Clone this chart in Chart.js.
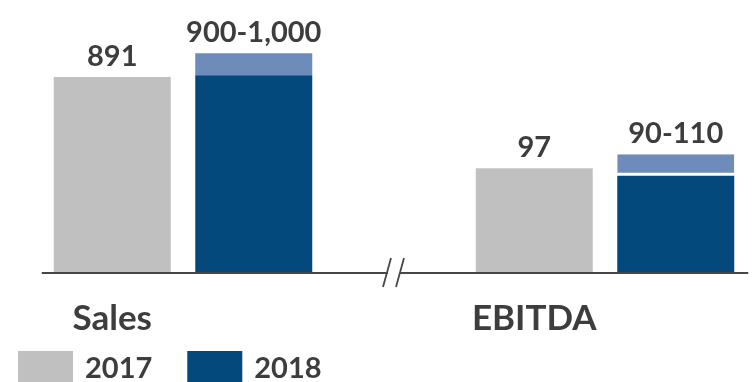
<!DOCTYPE html>
<html>
<head>
<meta charset="utf-8">
<title>Sales and EBITDA outlook</title>
<script src="https://cdn.jsdelivr.net/npm/chart.js@4/dist/chart.umd.min.js"></script>
<style>
    html, body { margin: 0; padding: 0; background: #ffffff; }
    #wrap { width: 753px; height: 382px; }
</style>
</head>
<body>
<div id="wrap"><canvas id="outlookChart" width="753" height="382"></canvas></div>
<script>
var categories = ['Sales', 'EBITDA'];
var years = ['2017', '2018'];
var actual2017 = [891, 97];
var outlookLow2018 = [900, 90];
var outlookHigh2018 = [1000, 110];

var GREY = '#c0c0c0';
var NAVY = '#03497c';
var LIGHT = '#6d8cb9';
var TEXT = '#3d3d3d';
var FONT = 'Lato, "Open Sans", sans-serif';

// Sales and EBITDA sit on their own value axes (broken axis between them)
var axisIds = ['ySales', 'yEbitda'];

function onlyAt(i, value) {
    return categories.map(function (c, j) { return j === i ? value : null; });
}

var datasets = [];
categories.forEach(function (cat, i) {
    datasets.push({
        label: years[0], yAxisID: axisIds[i], stack: years[0],
        data: onlyAt(i, actual2017[i]),
        backgroundColor: GREY
    });
});
categories.forEach(function (cat, i) {
    datasets.push({
        label: years[1], yAxisID: axisIds[i], stack: years[1],
        data: onlyAt(i, outlookLow2018[i]),
        backgroundColor: NAVY
    });
});
// guidance range drawn as a floating bar over the low end
categories.forEach(function (cat, i) {
    datasets.push({
        label: years[1] + ' range', yAxisID: axisIds[i], stack: years[1],
        data: onlyAt(i, [outlookLow2018[i], outlookHigh2018[i]]),
        backgroundColor: LIGHT,
        borderColor: '#ffffff',
        borderSkipped: false,
        borderWidth: i === 1 ? { top: 0, left: 0, right: 0, bottom: 3 } : 0
    });
});

function fmt(v) {
    return v.toLocaleString('en-US');
}

function barOf(chart, dsIndex, i) {
    return chart.getDatasetMeta(dsIndex).data[i];
}

var decorations = {
    id: 'decorations',
    afterDatasetsDraw: function (chart) {
        var ctx = chart.ctx;
        var n = categories.length;
        var base = chart.scales.ySales.getPixelForValue(0);

        ctx.save();

        // baseline with break marks between the two groups
        var first = barOf(chart, 0, 0);
        var last = barOf(chart, n + n - 1, n - 1);
        var left = first.x - first.width / 2 - 12;
        var right = last.x + last.width / 2 + 14;
        var salesEnd = barOf(chart, n, 0);
        var ebitdaStart = barOf(chart, 1, 1);
        var mid = ((salesEnd.x + salesEnd.width / 2) + (ebitdaStart.x - ebitdaStart.width / 2)) / 2;
        ctx.strokeStyle = '#474747';
        ctx.lineWidth = 2;
        ctx.beginPath();
        ctx.moveTo(left, base + 1);
        ctx.lineTo(mid - 6, base + 1);
        ctx.moveTo(mid + 6, base + 1);
        ctx.lineTo(right, base + 1);
        ctx.stroke();
        ctx.lineWidth = 1.8;
        ctx.beginPath();
        ctx.moveTo(mid - 11, base + 15);
        ctx.lineTo(mid - 3, base - 14);
        ctx.moveTo(mid + 2, base + 15);
        ctx.lineTo(mid + 10, base - 14);
        ctx.stroke();

        // value labels above each bar
        ctx.fillStyle = TEXT;
        ctx.font = 'bold 29px ' + FONT;
        ctx.textAlign = 'center';
        ctx.textBaseline = 'alphabetic';
        for (var i = 0; i < n; i++) {
            var b17 = barOf(chart, i, i);
            ctx.fillText(fmt(actual2017[i]), b17.x, b17.y - 11);
            var b18 = barOf(chart, 2 * n + i, i);
            ctx.fillText(fmt(outlookLow2018[i]) + '-' + fmt(outlookHigh2018[i]), b18.x, b18.y - 11);
        }

        // category names under the 2017 bar of each group
        ctx.font = 'bold 35px ' + FONT;
        for (var k = 0; k < n; k++) {
            var b = barOf(chart, k, k);
            ctx.fillText(categories[k], b.x, base + 58);
        }

        // legend
        ctx.textAlign = 'left';
        ctx.font = 'bold 29px ' + FONT;
        var x = 18;
        var legendColors = [GREY, NAVY];
        years.forEach(function (y, j) {
            ctx.fillStyle = legendColors[j];
            ctx.fillRect(x, 351, 55, 31);
            ctx.fillStyle = TEXT;
            ctx.fillText(y, x + 67, 378);
            x += 67 + ctx.measureText(y).width + 35;
        });

        ctx.restore();
    }
};

new Chart(document.getElementById('outlookChart'), {
    type: 'bar',
    data: { labels: categories, datasets: datasets },
    options: {
        responsive: false,
        animation: false,
        layout: { padding: { left: 183, right: 148, top: 22, bottom: 110 } },
        datasets: {
            bar: { categoryPercentage: 0.6706, barPercentage: 0.827, clip: false }
        },
        scales: {
            x: { display: false, offset: false },
            ySales: { display: false, stacked: false, min: 0, max: 1143 },
            yEbitda: { display: false, stacked: false, min: 0, max: 233.6 }
        },
        plugins: {
            legend: { display: false },
            tooltip: { enabled: false }
        }
    },
    plugins: [decorations]
});
</script>
</body>
</html>
